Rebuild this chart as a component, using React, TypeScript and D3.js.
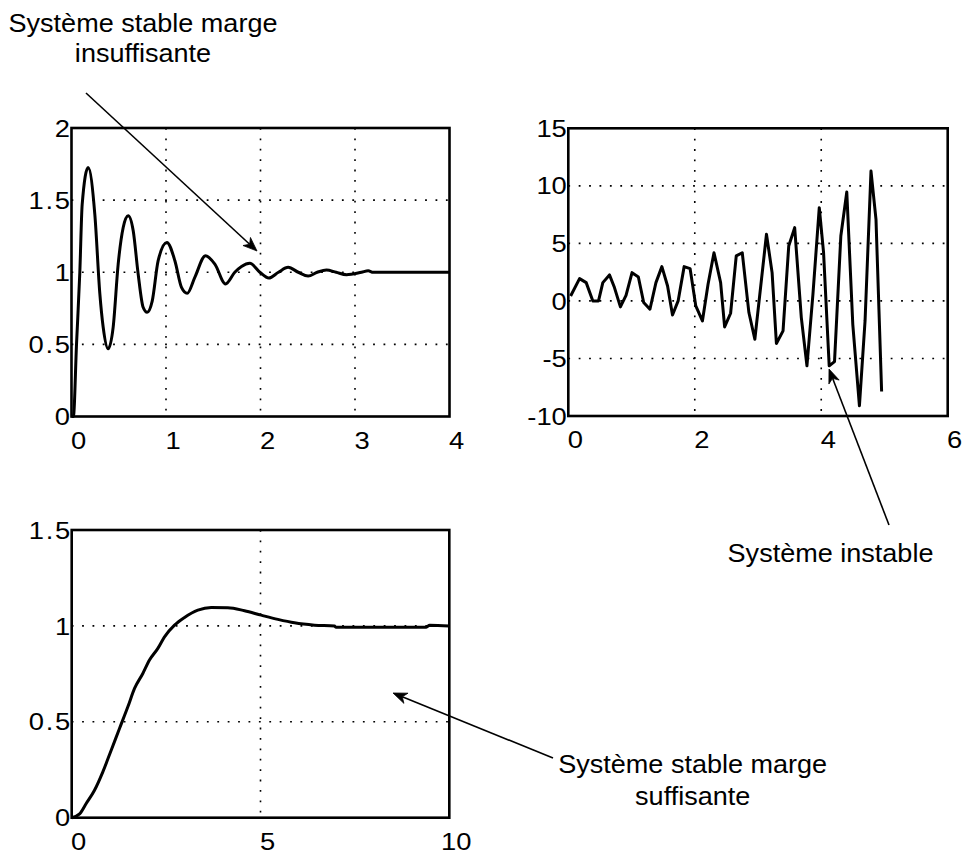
import React from "react";
import * as d3 from "d3";

// ---------- data ----------
const tlTime = [0, 0.02, 0.053, 0.088, 0.113, 0.176, 0.247, 0.3, 0.335, 0.388, 0.441, 0.494, 0.547, 0.6, 0.653, 0.705, 0.758, 0.8, 0.854, 0.917, 1.009, 1.094, 1.164, 1.224, 1.305, 1.418, 1.517, 1.63, 1.728, 1.799, 1.887, 1.993, 2.088, 2.19, 2.293, 2.4, 2.504, 2.6, 2.698, 2.8, 2.91, 3.069, 3.14, 3.192, 4];
const tlValue = [0, 0, 0.5, 1.0, 1.47, 1.727, 1.4, 0.85, 0.62, 0.469, 0.62, 1.057, 1.31, 1.392, 1.288, 0.99, 0.757, 0.722, 0.8, 1.08, 1.207, 1.08, 0.895, 0.854, 0.965, 1.115, 1.057, 0.919, 1.0, 1.04, 1.062, 1.0, 0.96, 1.0, 1.034, 1.0, 0.974, 1.0, 1.016, 1.0, 0.983, 1.0, 1.01, 1.0, 1.0];

const trTime = [0.037, 0.178, 0.283, 0.388, 0.478, 0.546, 0.651, 0.73, 0.824, 0.913, 1.008, 1.108, 1.192, 1.291, 1.386, 1.48, 1.57, 1.648, 1.737, 1.832, 1.926, 2.016, 2.121, 2.21, 2.304, 2.409, 2.472, 2.567, 2.656, 2.751, 2.856, 2.95, 3.134, 3.223, 3.291, 3.396, 3.486, 3.58, 3.685, 3.774, 3.869, 3.969, 4.037, 4.126, 4.21, 4.31, 4.404, 4.499, 4.604, 4.693, 4.787, 4.866, 4.955];
const trValue = [0.43, 1.94, 1.59, 0, 0, 1.59, 2.26, 1.16, -0.52, 0.49, 2.46, 2.08, -0.14, -0.72, 1.59, 2.98, 1.3, -1.22, 0, 2.98, 2.81, -0.43, -1.74, 1.45, 4.19, 1.59, -2.26, -1.07, 3.91, 4.19, -1.01, -3.33, 5.79, 2.46, -3.7, -2.6, 4.77, 6.37, -1.45, -5.64, 0.58, 8.1, 4.19, -5.64, -5.27, 5.64, 9.46, -2.03, -9.11, -1.74, 11.28, 7.09, -7.87];

const btTime = [0, 0.21, 0.384, 0.604, 0.825, 1.046, 1.266, 1.487, 1.664, 1.884, 2.06, 2.282, 2.458, 2.723, 2.988, 3.341, 3.694, 4.135, 4.577, 5.018, 5.46, 5.9, 6.43, 6.96, 7.0, 9.39, 9.48, 10];
const btValue = [0, 0.02, 0.074, 0.143, 0.239, 0.352, 0.465, 0.578, 0.674, 0.752, 0.822, 0.883, 0.943, 1.004, 1.044, 1.082, 1.096, 1.095, 1.079, 1.056, 1.034, 1.016, 1.004, 0.999, 0.993, 0.993, 1.004, 1.0];

const tlXTicks = [0, 1, 2, 3, 4];
const tlYTicks = [0, 0.5, 1, 1.5, 2];
const trXTicks = [0, 2, 4, 6];
const trYTicks = [-10, -5, 0, 5, 10, 15];
const btXTicks = [0, 5, 10];
const btYTicks = [0, 0.5, 1, 1.5];

const annotTopLeft = ["Système stable marge", "insuffisante"];
const annotRight = ["Système instable"];
const annotBottom = ["Système stable marge", "suffisante"];

const FONT = "'Liberation Sans', Arial, Helvetica, sans-serif";
const SX = 1.14;

type PanelProps = {
  left: number; right: number; top: number; bottom: number;
  xDomain: [number, number]; yDomain: [number, number];
  xTicks: number[]; yTicks: number[];
  times: number[]; values: number[];
  curve: d3.CurveFactory;
};

function TickText({ v }: { v: number }) {
  const s = String(v);
  const i = s.indexOf(".");
  if (i < 0) return <>{s}</>;
  return (
    <>
      <tspan>{s.slice(0, i)}</tspan>
      <tspan dx={1.5}>.</tspan>
      <tspan dx={1.5}>{s.slice(i + 1)}</tspan>
    </>
  );
}

function Panel(p: PanelProps) {
  const x = d3.scaleLinear().domain(p.xDomain).range([p.left, p.right]);
  const y = d3.scaleLinear().domain(p.yDomain).range([p.bottom, p.top]);
  const pts: [number, number][] = p.times.map((t, i) => [t, p.values[i]]);
  const line = d3.line<[number, number]>().x(d => x(d[0])).y(d => y(d[1])).curve(p.curve);
  return (
    <g>
      {p.xTicks.slice(1, -1).map(t => (
        <line key={"gx" + t} x1={x(t)} x2={x(t)} y1={p.top} y2={p.bottom}
          stroke="#000" strokeWidth={1.6} strokeDasharray="1.8 8.6" />
      ))}
      {p.yTicks.slice(1, -1).map(t => (
        <line key={"gy" + t} x1={p.left} x2={p.right} y1={y(t)} y2={y(t)}
          stroke="#000" strokeWidth={1.6} strokeDasharray="1.8 8.6" />
      ))}
      <path d={line(pts) || ""} fill="none" stroke="#000" strokeWidth={3} strokeLinejoin="round" />
      <rect x={p.left} y={p.top} width={p.right - p.left} height={p.bottom - p.top}
        fill="none" stroke="#000" strokeWidth={2.6} />
      {p.xTicks.map(t => (
        <text key={"xl" + t} transform={`translate(${x(t) + 7},${p.bottom + 32}) scale(${SX},1)`}
          textAnchor="middle" fontFamily={FONT} fontSize={24}><TickText v={t} /></text>
      ))}
      {p.yTicks.map(t => (
        <text key={"yl" + t} transform={`translate(${p.left - 1.5},${y(t)}) scale(${SX},1)`}
          dy="0.36em" textAnchor="end" fontFamily={FONT} fontSize={24}><TickText v={t} /></text>
      ))}
    </g>
  );
}

function Arrow({ x1, y1, x2, y2 }: { x1: number; y1: number; x2: number; y2: number }) {
  const ang = Math.atan2(y2 - y1, x2 - x1);
  const L = 14, W = 5.5, back = 10;
  const ux = Math.cos(ang), uy = Math.sin(ang);
  const px = -uy, py = ux;
  const bx = x2 - ux * L, by = y2 - uy * L;
  const mx = x2 - ux * back, my = y2 - uy * back;
  const head = `M${x2},${y2} L${bx + px * W},${by + py * W} L${mx},${my} L${bx - px * W},${by - py * W} Z`;
  return (
    <g>
      <line x1={x1} y1={y1} x2={mx} y2={my} stroke="#000" strokeWidth={1.6} />
      <path d={head} fill="#000" stroke="#000" strokeWidth={0.8} strokeLinejoin="miter" />
    </g>
  );
}

export default function App() {
  return (
    <svg width={967} height={856} style={{ position: "absolute", left: 0, top: 0, background: "#fff" }}>
      <rect x={0} y={0} width={967} height={856} fill="#fff" />
      <Panel left={71.5} right={449.5} top={128} bottom={416.5}
        xDomain={[0, 4]} yDomain={[0, 2]} xTicks={tlXTicks} yTicks={tlYTicks}
        times={tlTime} values={tlValue} curve={d3.curveMonotoneX} />
      <Panel left={568.3} right={947.7} top={128.3} bottom={416}
        xDomain={[0, 6]} yDomain={[-10, 15]} xTicks={trXTicks} yTicks={trYTicks}
        times={trTime} values={trValue} curve={d3.curveLinear} />
      <Panel left={71.7} right={449.3} top={530} bottom={817.7}
        xDomain={[0, 10]} yDomain={[0, 1.5]} xTicks={btXTicks} yTicks={btYTicks}
        times={btTime} values={btValue} curve={d3.curveMonotoneX} />

      <Arrow x1={86} y1={93} x2={257} y2={251} />
      <Arrow x1={889} y1={525} x2={829} y2={369} />
      <Arrow x1={553} y1={758} x2={393} y2={693} />

      <g fontFamily={FONT} fontSize={26} textAnchor="middle" fill="#000">
        <text transform={`translate(143,32) scale(1.04,1)`}>{annotTopLeft[0]}</text>
        <text transform={`translate(143,62) scale(1.04,1)`}>{annotTopLeft[1]}</text>
        <text transform={`translate(830.5,562) scale(1.04,1)`}>{annotRight[0]}</text>
        <text transform={`translate(692.7,773) scale(1.04,1)`}>{annotBottom[0]}</text>
        <text transform={`translate(692.7,805) scale(1.04,1)`}>{annotBottom[1]}</text>
      </g>
    </svg>
  );
}
